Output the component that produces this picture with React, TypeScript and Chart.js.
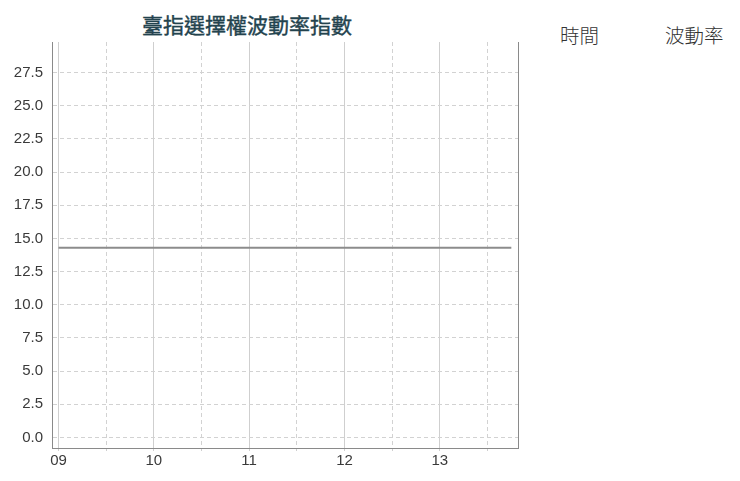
import React, { useEffect, useRef } from 'react';
import { Chart, registerables } from 'chart.js';

Chart.register(...registerables);

// time of day (hours) and volatility index values
const hours = [9, 9.25, 9.5, 9.75, 10, 10.25, 10.5, 10.75, 11, 11.25, 11.5, 11.75, 12, 12.25, 12.5, 12.75, 13, 13.25, 13.5, 13.75];
const vix = [14.3, 14.3, 14.3, 14.3, 14.3, 14.3, 14.3, 14.3, 14.3, 14.3, 14.3, 14.3, 14.3, 14.3, 14.3, 14.3, 14.3, 14.3, 14.3, 14.3];
const xTicks = [9, 9.5, 10, 10.5, 11, 11.5, 12, 12.5, 13, 13.5];
const yTicks = [0, 2.5, 5, 7.5, 10, 12.5, 15, 17.5, 20, 22.5, 25, 27.5];
const title = '臺指選擇權波動率指數';
const headers = ['時間', '波動率'];

const axisFont = { family: 'Arial, "Liberation Sans", sans-serif', size: 15 };

function VixChart() {
  const chartRef = useRef<HTMLCanvasElement>(null);
  useEffect(() => {
    if (!chartRef.current) return;
    const ctx = chartRef.current.getContext('2d');
    if (!ctx) return;
    const chart = new Chart(ctx, {
      type: 'line',
      data: {
        datasets: [
          {
            label: '波動率',
            data: hours.map((h, i) => ({ x: h, y: vix[i] })),
            borderColor: '#8c8c8c',
            borderWidth: 2,
            pointRadius: 0,
            tension: 0,
            fill: false,
          },
        ],
      },
      options: {
        animation: false,
        responsive: true,
        maintainAspectRatio: false,
        layout: { padding: { top: 42, right: 12, bottom: 8, left: 0 } },
        plugins: { legend: { display: false }, tooltip: { enabled: false } },
        scales: {
          x: {
            type: 'linear',
            min: 8.932,
            max: 13.82,
            afterBuildTicks: (s: any) => {
              s.ticks = xTicks.map(v => ({ value: v }));
            },
            afterFit: (s: any) => {
              s.height = 25;
            },
            ticks: {
              autoSkip: false,
              maxRotation: 0,
              padding: 1,
              color: '#3a3a3a',
              font: axisFont,
              callback: (v: any) => (Number(v) % 1 === 0 ? String(v).padStart(2, '0') : ''),
            },
            grid: {
              color: (c: any) => (c.tick && c.tick.value % 1 === 0 ? '#cfcfcf' : '#d2d2d2'),
              tickLength: 3,
              tickColor: '#cfcfcf',
            },
            border: {
              color: '#8a8a8a',
              width: 1,
              dash: (c: any) => (c.tick && c.tick.value % 1 !== 0 ? [4, 3] : []),
            },
          },
          y: {
            position: 'left',
            min: -0.8,
            max: 29.8,
            afterBuildTicks: (s: any) => {
              s.ticks = yTicks.map(v => ({ value: v }));
            },
            afterFit: (s: any) => {
              s.width = 52;
            },
            ticks: {
              padding: 9,
              color: '#3a3a3a',
              font: axisFont,
              callback: (v: any) => Number(v).toFixed(1),
            },
            grid: { color: '#d2d2d2', drawTicks: false },
            border: {
              color: '#8a8a8a',
              width: 1,
              dash: (c: any) => (c.tick ? [4, 3] : []),
            },
          },
          y2: {
            position: 'right',
            min: -0.8,
            max: 29.8,
            afterFit: (s: any) => {
              s.width = 0;
            },
            ticks: { display: false },
            grid: { drawOnChartArea: false, drawTicks: false },
            border: { color: '#8a8a8a', width: 1 },
          },
        },
      },
    });
    return () => chart.destroy();
  }, []);
  return <canvas ref={chartRef} />;
}

export default function App() {
  const cjk = '"Noto Sans CJK TC", "Noto Sans CJK SC", sans-serif';
  return (
    <div style={{ position: 'absolute', left: 0, top: 0, width: 740, height: 481, background: '#fff' }}>
      <div
        style={{
          position: 'absolute',
          left: 0,
          top: 12,
          width: 494,
          textAlign: 'center',
          fontFamily: cjk,
          fontSize: 21,
          lineHeight: '24px',
          fontWeight: 400,
          color: '#23434e',
          WebkitTextStroke: '0.4px #23434e',
        }}
      >
        {title}
      </div>
      <div style={{ position: 'absolute', left: 0, top: 0, width: 530, height: 481 }}>
        <VixChart />
      </div>
      <div style={{ position: 'absolute', left: 560, top: 24, fontFamily: cjk, fontSize: 19.5, lineHeight: '22px', fontWeight: 300, color: '#333' }}>
        {headers[0]}
      </div>
      <div style={{ position: 'absolute', left: 665, top: 24, fontFamily: cjk, fontSize: 19.5, lineHeight: '22px', fontWeight: 300, color: '#333' }}>
        {headers[1]}
      </div>
    </div>
  );
}
